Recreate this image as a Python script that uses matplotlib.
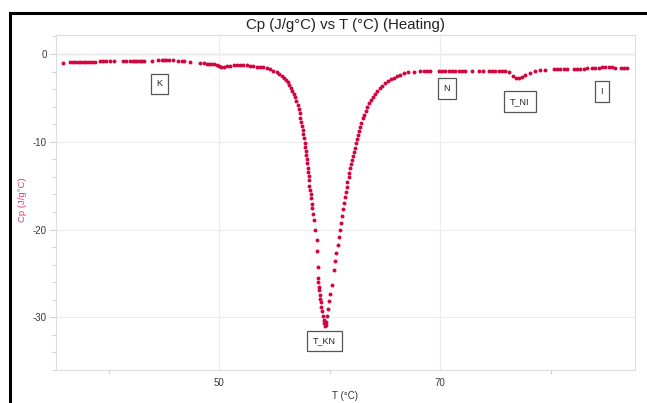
import matplotlib
matplotlib.use("Agg")
import matplotlib.pyplot as plt
from matplotlib.lines import Line2D
from matplotlib.ticker import MultipleLocator, FixedLocator

plt.rcParams['font.family'] = ['Liberation Sans', 'DejaVu Sans']
plt.rcParams['axes.unicode_minus'] = False

# Temperature (°C) readings
T = [35.9,
     36.5, 36.75, 37.0, 37.25, 37.5, 37.75, 38.0, 38.25, 38.5, 38.8,
     39.2, 39.5, 39.8, 40.1, 40.5,
     41.3, 41.6, 41.9, 42.2, 42.4, 42.6, 42.8, 43.0, 43.2,
     43.9,
     44.5, 44.8, 45.0, 45.2, 45.5, 45.8,
     46.3, 46.6, 46.8,
     47.4,
     48.3, 48.6, 48.9, 49.1, 49.3, 49.5,
     49.8, 50.0, 50.2, 50.4, 50.7,
     51.0, 51.3, 51.6, 51.9, 52.2, 52.5,
     52.8, 53.1, 53.4, 53.7, 54.0,
     54.3, 54.6, 54.9, 55.2, 55.45, 55.67, 55.87, 56.06, 56.22, 56.36, 56.5,
     56.63, 56.76, 56.88, 56.99, 57.09, 57.18, 57.27, 57.35, 57.42, 57.48,
     57.54, 57.6, 57.66, 57.72, 57.78, 57.83, 57.87, 57.92, 57.96, 58.0,
     58.05, 58.1, 58.14,
     58.17, 58.24, 58.30, 58.33, 58.39, 58.42, 58.48, 58.57, 58.69, 58.81,
     58.87, 58.90, 58.93, 58.96, 58.99, 59.02, 59.08, 59.14, 59.17, 59.23,
     59.30, 59.38, 59.45, 59.50, 59.55,
     59.62, 59.68, 59.77, 59.86, 59.95, 60.05, 60.20, 60.41, 60.50, 60.59,
     60.71, 60.80, 60.89, 60.98, 61.07, 61.16, 61.25, 61.34, 61.43, 61.52,
     61.60, 61.70, 61.78, 61.86, 61.93, 62.0, 62.08, 62.15, 62.25, 62.34,
     62.43, 62.52, 62.62, 62.73, 62.85, 62.97, 63.1, 63.24, 63.4, 63.55,
     63.7, 63.87, 64.07, 64.27, 64.5, 64.72, 64.97, 65.23, 65.5, 65.77,
     66.07, 66.38, 66.7, 67.1, 67.58,
     68.19, 68.49, 68.8, 69.1,
     69.85, 70.15, 70.45, 70.75, 71.06,
     71.36, 71.66, 71.96, 72.26,
     72.87,
     73.47, 73.86,
     74.37, 74.68, 74.98,
     75.28, 75.58, 75.88,
     76.25, 76.55, 76.85, 77.12, 77.39, 77.69, 78.14, 78.6, 79.05, 79.5,
     80.25, 80.55, 80.85, 81.16, 81.46,
     82.06, 82.36, 82.66, 82.97, 83.27,
     83.72, 84.02, 84.32, 84.62, 84.93, 85.23, 85.53, 85.83,
     86.29, 86.59, 86.9]

# Heat capacity Cp (J/g°C) readings
Cp = [-0.99,
      -0.95, -0.95, -0.94, -0.94, -0.93, -0.93, -0.92, -0.92, -0.91, -0.9,
      -0.78, -0.77, -0.77, -0.78, -0.78,
      -0.82, -0.82, -0.81, -0.81, -0.8, -0.8, -0.79, -0.79, -0.78,
      -0.75,
      -0.7, -0.69, -0.69, -0.69, -0.7, -0.71,
      -0.78, -0.8, -0.82,
      -0.87,
      -1.0, -1.04, -1.08, -1.1, -1.12, -1.15,
      -1.3, -1.38, -1.42, -1.42, -1.38,
      -1.32, -1.3, -1.28, -1.28, -1.3, -1.3,
      -1.35, -1.38, -1.42, -1.45, -1.5,
      -1.58, -1.72, -1.88, -2.09, -2.28, -2.47, -2.7, -2.96, -3.22, -3.53, -3.85,
      -4.18, -4.55, -4.94, -5.38, -5.82, -6.3, -6.76, -7.24, -7.72, -8.2,
      -8.67, -9.15, -9.62, -10.1, -10.57, -11.05, -11.52, -12.0, -12.46, -12.93,
      -13.4, -13.9, -14.4,
      -15.0, -15.5, -16.0, -16.4, -17.1, -17.5, -18.2, -18.9, -20.0, -21.2,
      -22.4, -24.3, -25.5, -26.0, -26.5, -26.9, -27.4, -27.9, -28.3, -28.8,
      -29.3, -29.8, -30.3, -30.7, -31.0,
      -30.9, -30.5, -29.8, -29.0, -28.1, -27.3, -26.3, -24.6, -23.6, -22.7,
      -21.8, -20.9, -20.1, -19.3, -18.5, -17.7, -17.0, -16.3, -15.7, -15.1,
      -14.6, -14.0, -13.5, -13.04, -12.55, -12.09, -11.6, -11.14, -10.65, -10.18,
      -9.7, -9.24, -8.75, -8.29, -7.8, -7.33, -6.9, -6.47, -6.03, -5.62,
      -5.23, -4.87, -4.5, -4.18, -3.88, -3.61, -3.35, -3.11, -2.9, -2.7,
      -2.53, -2.39, -2.2, -2.09, -2.02,
      -1.9, -1.9, -1.9, -1.9,
      -1.9, -1.9, -1.9, -1.9, -1.9,
      -1.9, -1.9, -1.9, -1.9,
      -1.9,
      -1.9, -1.9,
      -1.9, -1.9, -1.9,
      -1.9, -1.92, -1.95,
      -2.1, -2.45, -2.7, -2.77, -2.56, -2.36, -2.17, -1.98, -1.87, -1.82,
      -1.75, -1.75, -1.74, -1.73, -1.72,
      -1.68, -1.67, -1.66, -1.65, -1.64,
      -1.58, -1.56, -1.54, -1.52, -1.52, -1.52, -1.53, -1.55,
      -1.62, -1.63, -1.64]

labels = ["K", "T_KN", "N", "T_NI", "I"]
label_T = [44.6, 59.5, 70.6, 77.2, 84.6]
label_Cp = [-3.4, -32.7, -3.9, -5.4, -4.3]

W, H = 647, 403
fig = plt.figure(figsize=(W / 100, H / 100), dpi=100)
fig.patch.set_facecolor('white')
ax = fig.add_axes([56 / W, 1 - 370 / H, (635 - 56) / W, (370 - 35) / H])

ax.set_xlim(35.25, 87.6)
ax.set_ylim(-36.0, 2.17)

ax.xaxis.set_major_locator(FixedLocator([50, 70]))
ax.xaxis.set_minor_locator(FixedLocator([40, 60, 80]))
ax.yaxis.set_major_locator(MultipleLocator(10))
ax.yaxis.set_minor_locator(MultipleLocator(2))

ax.grid(True, which='major', color='#ececec', linewidth=0.8, zorder=0)
ax.axhline(0, color='#b8b8b8', linewidth=0.9, zorder=1)

for s in ax.spines.values():
    s.set_color('#dddddd')
    s.set_linewidth(0.8)

ax.tick_params(axis='both', which='major', colors='#cfcfcf', labelcolor='#3a3a3a',
               labelsize=7, length=5, width=0.7)
ax.tick_params(axis='both', which='minor', colors='#cfcfcf', length=3, width=0.7)
ax.tick_params(axis='x', which='major', length=0, pad=6)
ax.tick_params(axis='y', which='major', pad=1.5)

ax.scatter(T, Cp, s=8, color='#D1063F', linewidths=0, zorder=3)

for lab, x, y in zip(labels, label_T, label_Cp):
    ax.text(x, y, lab, ha='center', va='center', fontsize=6.5, color='#222222',
            bbox=dict(boxstyle='square,pad=0.65', facecolor='white',
                      edgecolor='#555555', linewidth=0.9), zorder=4)

ax.set_title('Cp (J/g°C) vs T (°C) (Heating)', fontsize=10.8, color='#222222', pad=4)
ax.set_xlabel('T (°C)', fontsize=7, color='#333333', labelpad=2)
ax.set_ylabel('Cp (J/g°C)', fontsize=6.8, color='#DE3D74')
ax.yaxis.set_label_coords(-0.05, 0.507)

# black frame lines (left and top)
fig.add_artist(Line2D([9.5 / W, 9.5 / W], [0, 1 - 12.5 / H], transform=fig.transFigure,
                      color='black', linewidth=2.2, solid_capstyle='projecting'))
fig.add_artist(Line2D([9.5 / W, 1], [1 - 12.5 / H, 1 - 12.5 / H], transform=fig.transFigure,
                      color='black', linewidth=2.2, solid_capstyle='projecting'))

fig.savefig('out.png', dpi=100, facecolor='white')
